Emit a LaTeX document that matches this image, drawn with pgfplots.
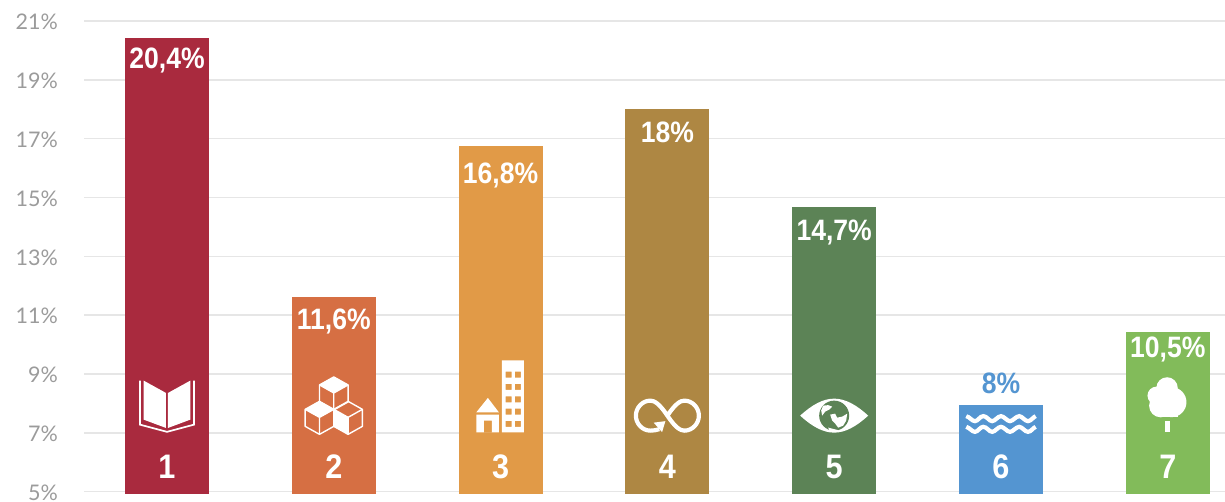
\documentclass[border=0pt]{standalone}
\usepackage{fontspec}
\setmainfont{Lato}
\newfontfamily\cond[FakeStretch=0.9]{Liberation Sans}
\usepackage{pgfplots}
\pgfplotsset{compat=1.18}
\definecolor{c1}{HTML}{A92A3E}
\definecolor{c2}{HTML}{D66F43}
\definecolor{c3}{HTML}{E19A47}
\definecolor{c4}{HTML}{AE8743}
\definecolor{c5}{HTML}{5C8356}
\definecolor{c6}{HTML}{5495D1}
\definecolor{c7}{HTML}{82BB5A}
\definecolor{gridc}{HTML}{E6E6E6}
\definecolor{tickc}{HTML}{9B9B9B}
% ---- icon drawing: local units are pixels, origin at the bar centre on the 5% line
\newcommand{\iconscope}[2]{\begin{scope}[shift={(axis cs:#1,5)},x=1pt,y=1pt]#2\end{scope}}
\newcommand{\cube}[3]{% cx, top vertex y, filled faces
  \begin{scope}[shift={(#1,#2)}]
    #3
    \draw[white,line width=1.4pt,line join=round] (0,0)--(14.3,-8)--(14.3,-25)--(0,-33)--(-14.3,-25)--(-14.3,-8)--cycle;
    \draw[white,line width=1.4pt] (-14.3,-8)--(0,-16)--(14.3,-8) (0,-16)--(0,-33);
  \end{scope}}
\newcommand{\wave}[1]{%
  \draw[white,line width=4.2pt,yshift=#1] (-34.7,5)
   .. controls (-31,4) and (-29,0) .. (-26,0) .. controls (-23,0) and (-21,5) .. (-17.7,5)
   .. controls (-14,5) and (-12,0) .. (-8.8,0) .. controls (-6,0) and (-3,5) .. (0,5)
   .. controls (3,5) and (6,0) .. (9,0) .. controls (12,0) and (15,5) .. (18.3,5)
   .. controls (21,5) and (24,0) .. (27,0) .. controls (30,0) and (32,4) .. (34.7,5);}
\begin{document}
\begin{tikzpicture}
\path[use as bounding box] (0,0) rectangle (1225pt,501pt);
\begin{axis}[
  at={(84pt,7.3pt)},anchor=south west,
  scale only axis,width=1141pt,height=472.7pt,
  xmin=-0.4976,xmax=6.343,ymin=4.93,ymax=21,
  ytick={5,7,9,11,13,15,17,19,21},xtick=\empty,
  yticklabel={\pgfmathprintnumber{\tick}\%},
  yticklabel style={/pgf/number format/assume math mode=true,font=\fontsize{21.5}{21.5}\selectfont,text=tickc,inner sep=0pt,anchor=east,xshift=-26pt,yshift=-1pt},
  ymajorgrids,
  grid style={gridc,line width=1.6pt},
  axis line style={draw=none},
  major tick length=0pt,
  tick style={draw=none},
  clip mode=individual,
  ybar,bar width=84pt,bar shift=0pt,
  point meta=explicit symbolic,
  nodes near coords,
  nodes near coords style={font=\cond\bfseries\fontsize{29.5}{29.5}\selectfont,text=white,anchor=center,yshift=-21pt,inner sep=0pt},
]
\addplot[fill=c1,draw=none,nodes near coords style={yshift=-1pt}] coordinates {(0,20.42) [20,4\%]};
\addplot[fill=c2,draw=none,nodes near coords style={yshift=-4pt}] coordinates {(1,11.62) [11,6\%]};
\addplot[fill=c3,draw=none,nodes near coords style={yshift=-8pt}] coordinates {(2,16.74) [16,8\%]};
\addplot[fill=c4,draw=none,nodes near coords style={yshift=-2pt}] coordinates {(3,18.0) [18\%]};
\addplot[fill=c5,draw=none,nodes near coords style={yshift=-4pt}] coordinates {(4,14.67) [14,7\%]};
\addplot[fill=c6,draw=none,nodes near coords style={text=c6,yshift=43pt}] coordinates {(5,7.94) [8\%]};
\addplot[fill=c7,draw=none,nodes near coords style={yshift=3pt}] coordinates {(6,10.44) [10,5\%]};

% bar numbers
\foreach \n/\p in {1/0,2/1,3/2,4/3,5/4,6/5,7/6}{
  \edef\tmp{\noexpand\node[text=white,inner sep=0pt,font=\noexpand\cond\noexpand\bfseries\noexpand\fontsize{34}{34}\noexpand\selectfont,yshift=25pt] at (axis cs:\p,5) {\n};}
  \tmp
}

% 1 book
\iconscope{0}{
  \fill[white] (-23.3,111)--(-1,98.7)--(-1,63.7)--(-23.3,72)--cycle;
  \fill[white] (23.3,111)--(1,98.7)--(1,63.7)--(23.3,72)--cycle;
  \draw[white,line width=1.7pt,line join=miter] (-27,111)--(-27,67)--(0,59.8)--(27,67)--(27,111);
}
% 2 cubes
\iconscope{1}{
  \cube{0}{114.7}{\fill[white] (0,0)--(14.3,-8)--(0,-16)--(-14.3,-8)--cycle;}
  \cube{-14.3}{90.3}{\fill[white] (0,0)--(14.3,-8)--(0,-16)--(-14.3,-8)--cycle;}
  \cube{14.3}{90.3}{\fill[white] (-14.3,-8)--(0,-16)--(0,-33)--(-14.3,-25)--cycle;}
}
% 3 buildings
\iconscope{2}{
  \fill[white,even odd rule] (1.3,131.3) rectangle (23.3,59.3)
    (5,120) rectangle (11,114) (14.3,120) rectangle (20.3,114)
    (5,107.7) rectangle (11,101.7) (14.3,107.7) rectangle (20.3,101.7)
    (5,95.3) rectangle (11,89.3) (14.3,95.3) rectangle (20.3,89.3)
    (5,83) rectangle (11,77) (14.3,83) rectangle (20.3,77)
    (5,70.7) rectangle (11,64.7) (14.3,70.7) rectangle (20.3,64.7);
  \fill[white] (-24.3,79.3)--(-1.7,79.3)--(-12.7,93.7)--cycle;
  \fill[white,even odd rule] (-24.3,77) rectangle (-1.7,59.3) (-16.7,71) rectangle (-8.7,59.3);
}
% 4 infinity
\iconscope{3}{
  \draw[white,line width=4.2pt]
    (0,76) .. controls (8,88) and (13,91) .. (17,91) .. controls (25,91) and (31.5,84) .. (31.5,76)
    .. controls (31.5,68) and (25,61) .. (17,61) .. controls (13,61) and (8,64) .. (0,76)
    .. controls (-8,88) and (-13,91) .. (-17,91) .. controls (-25,91) and (-31.5,84) .. (-31.5,76)
    .. controls (-31.5,68) and (-25,61) .. (-17,61) .. controls (-14,61) and (-11,61.5) .. (-8,62.5);
  \fill[white] (-13.7,69)--(-2,70.5)--(-5.3,59.5)--cycle;
}
% 5 eye
\iconscope{4}{
  \fill[white] (-34,76) .. controls (-22,87) and (-11,93) .. (0,93) .. controls (11,93) and (22,87) .. (34,76)
    .. controls (22,65) and (11,59) .. (0,59) .. controls (-11,59) and (-22,65) .. (-34,76) -- cycle;
  \fill[c5] (0,76) circle (15pt);
  \fill[white] (-11,86)--(-6,86.5)--(-2,85)--(-5,82)--(-9,80)--(-12,76)--(-13,81)--cycle;
  \fill[white] (-4,77)--(1,78)--(3,74)--(8,75)--(13,78)--(12,71)--(9,66)--(4,64)--(1,68)--(-2,71)--cycle;
  \fill[white] (-6,64)--(4,61.5)--(3,60)--(-4,60)--cycle;
}
% 6 waves
\iconscope{5}{\wave{70.5pt}\wave{59.8pt}}
% 7 tree
\iconscope{6}{
  \fill[white] (-0.7,103.7) circle (10.7pt) (-11.3,96) circle (9pt) (3.7,89.5) circle (15pt);
  \fill[white] (-7,86) circle (11.7pt);
  \fill[white] (-8,74.3) rectangle (10,85);
  \fill[white] (-2.7,59.3) rectangle (2.7,71);
}
\end{axis}
\end{tikzpicture}
\end{document}
